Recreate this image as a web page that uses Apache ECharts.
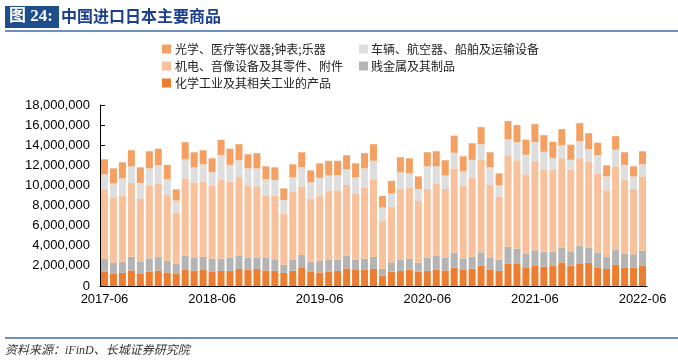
<!DOCTYPE html>
<html>
<head>
<meta charset="utf-8">
<script src="https://cdn.jsdelivr.net/npm/echarts@6/dist/echarts.min.js"></script>
<style>
html,body{margin:0;padding:0;background:#fff;}
#main{width:678px;height:364px;}
</style>
</head>
<body>
<div id="main"></div>
<script>
var categories = [
'2017-06','2017-07','2017-08','2017-09','2017-10','2017-11','2017-12',
'2018-01','2018-02','2018-03','2018-04','2018-05','2018-06','2018-07','2018-08','2018-09','2018-10','2018-11','2018-12',
'2019-01','2019-02','2019-03','2019-04','2019-05','2019-06','2019-07','2019-08','2019-09','2019-10','2019-11','2019-12',
'2020-01','2020-02','2020-03','2020-04','2020-05','2020-06','2020-07','2020-08','2020-09','2020-10','2020-11','2020-12',
'2021-01','2021-02','2021-03','2021-04','2021-05','2021-06','2021-07','2021-08','2021-09','2021-10','2021-11','2021-12',
'2022-01','2022-02','2022-03','2022-04','2022-05','2022-06'];

var seriesNames = ['化学工业及其相关工业的产品','贱金属及其制品','机电、音像设备及其零件、附件','车辆、航空器、船舶及运输设备','光学、医疗等仪器;钟表;乐器'];

var chemical = [1430000,1200000,1300000,1550000,1250000,1430000,1550000,1350000,1200000,1600000,1520000,1600000,1450000,1500000,1520000,1700000,1620000,1700000,1550000,1520000,1300000,1520000,1860000,1400000,1350000,1450000,1500000,1750000,1600000,1650000,1700000,1030000,1430000,1500000,1650000,1430000,1500000,1620000,1550000,1820000,1650000,1720000,2000000,1650000,1500000,2250000,2200000,1860000,2000000,1920000,2000000,2350000,2000000,2250000,2300000,1860000,1700000,2100000,1800000,1820000,2050000];
var baseMetal = [1270000,1100000,1100000,1350000,1150000,1320000,1350000,1150000,1000000,1400000,1330000,1300000,1250000,1200000,1280000,1300000,1180000,1150000,1250000,1130000,800000,1080000,1240000,1000000,1150000,1150000,1100000,1250000,1000000,1050000,1200000,670000,920000,1100000,1050000,870000,1300000,1380000,1250000,1480000,1100000,1180000,1350000,1150000,1100000,1650000,1500000,1340000,1550000,1480000,1400000,1450000,1450000,1750000,1500000,1490000,1200000,1500000,1400000,1330000,1450000];
var machinery = [6900000,6500000,6600000,7350000,6300000,7250000,7300000,6600000,5100000,7700000,7450000,7500000,7300000,7900000,7550000,7850000,7200000,7050000,6200000,6350000,5100000,6750000,6800000,6300000,6500000,6900000,6900000,7050000,6600000,7100000,7650000,4750000,5550000,7100000,7100000,6150000,6850000,7200000,6850000,8400000,7200000,7850000,9200000,7300000,6300000,9100000,8800000,7900000,8900000,8200000,8150000,8900000,8100000,8700000,8550000,7800000,6600000,8300000,7350000,6500000,7400000];
var vehicles = [1500000,1400000,1700000,1650000,1550000,1700000,1800000,1500000,1200000,1900000,1500000,1700000,1300000,2400000,1700000,1650000,1700000,1800000,1600000,1550000,1350000,1450000,1900000,1600000,1750000,1500000,1500000,1550000,1600000,1900000,1900000,1350000,1300000,1600000,1400000,1200000,2250000,1700000,1350000,1550000,1450000,1800000,1550000,1700000,1100000,1600000,1800000,1950000,1850000,1750000,1200000,1300000,1000000,1700000,1250000,1850000,1400000,1650000,1500000,1250000,1200000];
var optics = [1500000,1500000,1600000,1600000,1550000,1700000,1650000,1450000,1100000,1700000,1500000,1400000,1400000,1550000,1600000,1600000,1400000,1500000,1300000,1250000,1150000,1300000,1500000,1200000,1450000,1450000,1450000,1400000,1400000,1500000,1650000,1150000,1250000,1500000,1500000,1250000,1400000,1500000,1500000,1700000,1500000,1650000,1700000,1500000,1200000,1800000,1700000,1500000,1800000,1650000,1600000,1600000,1500000,1800000,1600000,1250000,1100000,1350000,1250000,1000000,1300000];

var yTicks = ['0','2,000,000','4,000,000','6,000,000','8,000,000','10,000,000','12,000,000','14,000,000','16,000,000','18,000,000'];

var colors = ['#ED7D31','#B4B4B4','#F8C19B','#DEDEDE','#F4A062'];
var dataList = [chemical, baseMetal, machinery, vehicles, optics];

var chart = echarts.init(document.getElementById('main'), null, {renderer:'canvas'});
var series = seriesNames.map(function(n, i){
  return {
    name: n, type: 'bar', stack: 'total', data: dataList[i],
    barCategoryGap: '22%',
    itemStyle: {color: colors[i]},
    emphasis: {disabled: true}
  };
});

var cjk = '"Noto Sans CJK SC", sans-serif';
var option = {
  animation: false,
  backgroundColor: '#fff',
  grid: {left: 100, right: 31, top: 105, bottom: 78, containLabel: false},
  legend: [
    {
      orient: 'vertical', left: 157, top: 38,
      data: [seriesNames[4], seriesNames[2], seriesNames[0]],
      itemWidth: 9, itemHeight: 9, itemGap: 5,
      icon: 'rect',
      textStyle: {fontSize: 12, color: '#222', fontFamily: cjk, padding: [0,0,0,-1]},
      selectedMode: false
    },
    {
      orient: 'vertical', left: 354, top: 38,
      data: [seriesNames[3], seriesNames[1]],
      itemWidth: 9, itemHeight: 9, itemGap: 5,
      icon: 'rect',
      textStyle: {fontSize: 12, color: '#222', fontFamily: cjk, padding: [0,0,0,-2]},
      selectedMode: false
    }
  ],
  xAxis: {
    type: 'category', data: categories,
    axisLine: {lineStyle: {color: '#000', width: 1}},
    axisTick: {inside: true, length: 5, interval: 11, lineStyle: {color: '#000'}},
    axisLabel: {interval: 11, color: '#000', fontSize: 13, fontFamily: '"Liberation Sans", Arial, sans-serif', margin: 7}
  },
  yAxis: {
    type: 'value', min: 0, max: 18000000, interval: 2000000,
    splitLine: {show: false},
    axisLine: {show: true, lineStyle: {color: '#000', width: 1}},
    axisTick: {show: true, inside: true, length: 5, lineStyle: {color: '#000'}},
    axisLabel: {color: '#000', fontSize: 13, fontFamily: '"Liberation Sans", Arial, sans-serif', margin: 10,
      formatter: function(v){ return yTicks[Math.round(v/2000000)]; }}
  },
  graphic: [
    {type: 'rect', shape: {x: 5, y: 6, width: 54, height: 22}, style: {fill: '#1F4E8D'}},
    {type: 'text', x: 9, y: 8, style: {text: '图 24:', fill: '#fff', font: 'bold 17px "Liberation Serif", "Noto Sans CJK SC", serif'}},
    {type: 'text', x: 61, y: 8, style: {text: '中国进口日本主要商品', fill: '#1B3F8E', font: 'bold 16px "Noto Sans CJK SC", sans-serif'}},
    {type: 'line', shape: {x1: 5, y1: 31, x2: 678, y2: 31}, style: {stroke: '#3D6AA5', lineWidth: 1.5}},
    {type: 'line', shape: {x1: 5, y1: 338, x2: 678, y2: 338}, style: {stroke: '#3D6AA5', lineWidth: 1.5}},
    {type: 'text', x: 5, y: 345, style: {text: '资料来源：iFinD、长城证券研究院', fill: '#333', font: 'italic 12px "Liberation Serif", "Noto Sans CJK SC", serif'}}
  ],
  series: series
};
chart.setOption(option);
</script>
</body>
</html>
